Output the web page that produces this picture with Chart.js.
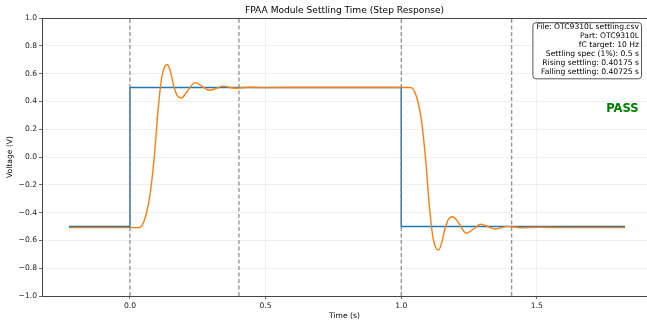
<!DOCTYPE html>
<html>
<head>
<meta charset="utf-8">
<script src="https://cdn.jsdelivr.net/npm/chart.js@4/dist/chart.umd.min.js"></script>
<style>
  html, body { margin: 0; padding: 0; background: #fff; }
  #wrap { width: 647px; height: 327px; position: relative; }
</style>
</head>
<body>
<div id="wrap"><canvas id="settleChart"></canvas></div>
<script>
// input step (blue)
const stepT = [-0.225, 0.0, 0.0, 1.0, 1.0, 1.825];
const stepV = [-0.5, -0.5, 0.5, 0.5, -0.5, -0.5];

const respT = [-0.225, 0.0, 0.03, 0.04, 0.05, 0.06, 0.074, 0.09, 0.104, 0.117, 0.128, 0.138, 0.15, 0.16, 0.175, 0.19,
  0.21, 0.24, 0.265, 0.292, 0.32, 0.344, 0.37, 0.39, 0.44, 0.5, 0.6, 0.8, 1.0, 1.03,
  1.04, 1.05, 1.06, 1.074, 1.09, 1.104, 1.117, 1.128, 1.138, 1.15, 1.16, 1.175, 1.19,
  1.21, 1.24, 1.265, 1.292, 1.32, 1.344, 1.37, 1.39, 1.44, 1.5, 1.6, 1.7, 1.825];
const respV = [-0.508, -0.508, -0.508, -0.503, -0.47, -0.41, -0.27, 0.01, 0.35, 0.57, 0.65, 0.665, 0.61, 0.52, 0.44, 0.425,
  0.47, 0.535, 0.51, 0.48, 0.495, 0.51, 0.50, 0.495, 0.502, 0.499, 0.50, 0.50, 0.50, 0.50,
  0.497, 0.465, 0.41, 0.27, -0.02, -0.36, -0.58, -0.655, -0.669, -0.61, -0.525, -0.445, -0.43,
  -0.47, -0.549, -0.52, -0.484, -0.50, -0.518, -0.508, -0.499, -0.509, -0.506, -0.508, -0.508, -0.508];

// settling markers (dashed)
const markers = [0.0, 0.40175, 1.0, 1.40725];

const xTicks = [0.0, 0.5, 1.0, 1.5];
const yTicks = [-1.0, -0.8, -0.6, -0.4, -0.2, 0.0, 0.2, 0.4, 0.6, 0.8, 1.0];

const chartTitle = 'FPAA Module Settling Time (Step Response)';
const infoLines = [
  'File: OTC9310L settling.csv',
  'Part: OTC9310L',
  'fC target: 10 Hz',
  'Settling spec (1%): 0.5 s',
  'Rising settling: 0.40175 s',
  'Falling settling: 0.40725 s'
];
const verdict = 'PASS';

const FONT = "'DejaVu Sans', sans-serif";
const fmt = v => (v < -1e-9 ? '\u2212' : '') + Math.abs(v).toFixed(1);

const datasets = markers.map(m => ({
  data: [{ x: m, y: -1 }, { x: m, y: 1 }],
  borderColor: '#7f7f7f',
  borderWidth: 1.1,
  borderDash: [4, 2.5],
  pointRadius: 0,
  tension: 0
}));
datasets.push({
  data: respT.map((t, i) => ({ x: t, y: respV[i] })),
  borderColor: '#ff7f0e',
  borderWidth: 1.4,
  pointRadius: 0,
  cubicInterpolationMode: 'monotone'
});
datasets.push({
  data: stepT.map((t, i) => ({ x: t, y: stepV[i] })),
  borderColor: '#1f77b4',
  borderWidth: 1.4,
  pointRadius: 0,
  tension: 0
});

// title over the axes, top spine, info box and verdict
const extras = {
  id: 'extras',
  afterDatasetsDraw(chart) {
    const { ctx, chartArea: a } = chart;
    ctx.save();
    ctx.strokeStyle = '#444';
    ctx.lineWidth = 1;
    ctx.beginPath();
    ctx.moveTo(a.left, a.top + 0.5);
    ctx.lineTo(a.right, a.top + 0.5);
    ctx.stroke();

    ctx.fillStyle = '#000';
    ctx.textAlign = 'center';
    ctx.textBaseline = 'middle';
    ctx.font = '9.1px ' + FONT;
    ctx.fillText(chartTitle, (a.left + a.right) / 2, a.top - 7);

    ctx.font = '7.6px ' + FONT;
    const w = Math.max(...infoLines.map(s => ctx.measureText(s).width));
    const right = a.right - 5.5;
    const top = a.top + 4.7;
    const lh = 8.85;
    const bw = w + 6, bh = infoLines.length * lh + 3;
    ctx.beginPath();
    ctx.roundRect(right - bw, top, bw, bh, 3);
    ctx.fillStyle = 'rgba(255,255,255,0.85)';
    ctx.fill();
    ctx.strokeStyle = '#555';
    ctx.lineWidth = 1;
    ctx.stroke();
    ctx.fillStyle = '#000';
    ctx.textAlign = 'right';
    infoLines.forEach((s, i) => ctx.fillText(s, right - 2.5, top + 4.6 + i * lh));

    ctx.font = 'bold 11.5px ' + FONT;
    ctx.fillStyle = '#008000';
    ctx.fillText(verdict, a.right - 8.5, a.top + 91);
    ctx.restore();
  }
};

new Chart(document.getElementById('settleChart'), {
  type: 'line',
  data: { datasets },
  options: {
    responsive: true,
    maintainAspectRatio: false,
    animation: false,
    layout: { padding: { left: 0, right: 0, top: 18, bottom: 0 } },
    plugins: {
      legend: { display: false },
      tooltip: { enabled: false },
      title: { display: false }
    },
    scales: {
      x: {
        type: 'linear',
        min: -0.3243,
        max: 1.906,
        afterBuildTicks: s => { s.ticks = xTicks.map(v => ({ value: v })); },
        afterFit: s => { s.height = 31; s.paddingLeft = 0; s.paddingRight = 0; },
        ticks: { callback: fmt, color: '#222', font: { family: FONT, size: 7.6 }, padding: 2, maxRotation: 0 },
        grid: { color: '#ebebeb', lineWidth: 0.8, tickColor: '#444', tickLength: 3 },
        border: { color: '#444', width: 1 },
        title: { display: true, text: 'Time (s)', color: '#000', font: { family: FONT, size: 7.6 }, padding: { top: 0, bottom: 6 } }
      },
      y: {
        min: -1,
        max: 1,
        afterBuildTicks: s => { s.ticks = yTicks.map(v => ({ value: v })); },
        afterFit: s => { s.width = 42; s.paddingTop = 0; s.paddingBottom = 0; },
        ticks: { callback: fmt, color: '#222', font: { family: FONT, size: 7.6 }, padding: 2 },
        grid: { color: '#ebebeb', lineWidth: 0.8, tickColor: '#444', tickLength: 3 },
        border: { color: '#444', width: 1 },
        title: { display: true, text: 'Voltage (V)', color: '#000', font: { family: FONT, size: 7.6 }, padding: { top: 5, bottom: 0 } }
      }
    }
  },
  plugins: [extras]
});
</script>
</body>
</html>
